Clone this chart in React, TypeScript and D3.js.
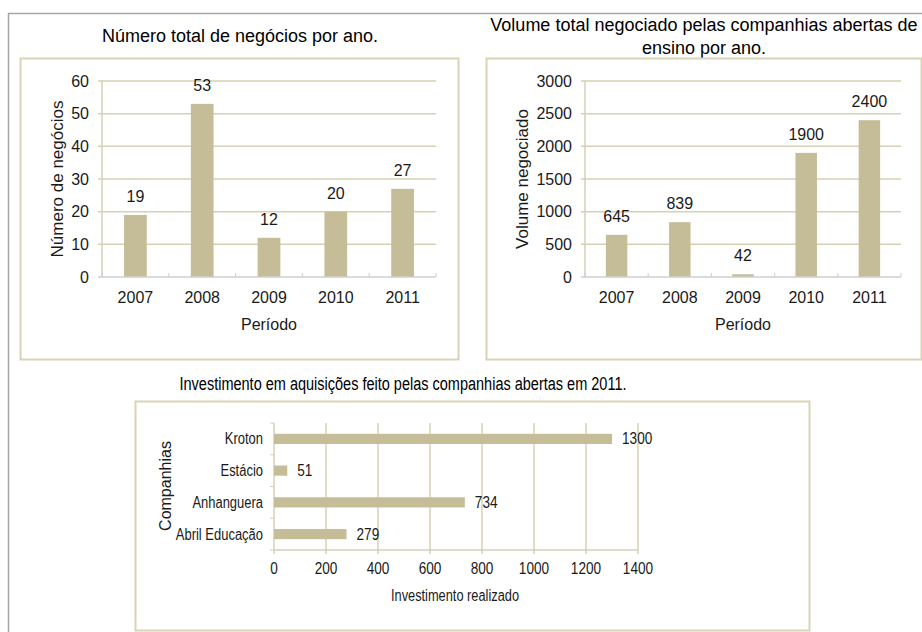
import React, { useEffect, useRef } from "react";
import * as d3 from "d3";

const years = ["2007", "2008", "2009", "2010", "2011"];
const negocios = [19, 53, 12, 20, 27];
const volume = [645, 839, 42, 1900, 2400];
const negociosTicks = [0, 10, 20, 30, 40, 50, 60];
const volumeTicks = [0, 500, 1000, 1500, 2000, 2500, 3000];
const companhias = ["Kroton", "Estácio", "Anhanguera", "Abril Educação"];
const investimento = [1300, 51, 734, 279];
const investTicks = [0, 200, 400, 600, 800, 1000, 1200, 1400];

const BAR = "#c4bd97";
const GRID = "#d6d1b3";
const FRAME = "#d9d4b8";
const TEXT = "#1a1a1a";
const FONT = "'Liberation Sans', Arial, sans-serif";

// squeeze text horizontally (the bottom chart uses a narrower face)
function squeeze(sel: d3.Selection<SVGTextElement, any, any, any>, k: number) {
  sel.each(function () {
    const w = this.getComputedTextLength();
    this.setAttribute("textLength", String(w * k));
    this.setAttribute("lengthAdjust", "spacingAndGlyphs");
  });
}

type VSpec = {
  frame: [number, number, number, number];
  plot: [number, number, number, number];
  values: number[];
  ticks: number[];
  max: number;
  yLabel: string;
  yLabelX: number;
  tickRight: number;
};

function drawColumns(svg: d3.Selection<SVGSVGElement, unknown, null, undefined>, s: VSpec) {
  const [fx0, fy0, fx1, fy1] = s.frame;
  const [px0, py0, px1, py1] = s.plot;
  const g = svg.append("g").style("font-family", FONT);

  g.append("rect")
    .attr("x", fx0 + 0.5).attr("y", fy0 + 0.5)
    .attr("width", fx1 - fx0).attr("height", fy1 - fy0)
    .attr("fill", "none").attr("stroke", FRAME).attr("stroke-width", 2);

  const x = d3.scaleBand().domain(years).range([px0, px1]).paddingInner(0.66).paddingOuter(0.33);
  const y = d3.scaleLinear().domain([0, s.max]).range([py1, py0]);

  g.selectAll(".grid").data(s.ticks.filter((t) => t > 0)).enter().append("line")
    .attr("x1", px0 - 4).attr("x2", px1)
    .attr("y1", (d) => y(d)).attr("y2", (d) => y(d))
    .attr("stroke", GRID).attr("stroke-width", 1.5);

  g.append("line").attr("x1", px0).attr("x2", px0).attr("y1", py0).attr("y2", py1)
    .attr("stroke", GRID).attr("stroke-width", 1.5);

  g.selectAll(".ylab").data(s.ticks).enter().append("text")
    .attr("x", s.tickRight).attr("y", (d) => y(d)).attr("dy", "0.35em")
    .attr("text-anchor", "end").attr("font-size", 16).attr("fill", TEXT)
    .text((d) => d);

  g.selectAll(".bar").data(s.values).enter().append("rect")
    .attr("x", (_, i) => x(years[i])!).attr("width", x.bandwidth())
    .attr("y", (d) => y(d)).attr("height", (d) => py1 - y(d))
    .attr("fill", BAR);

  g.selectAll(".val").data(s.values).enter().append("text")
    .attr("x", (_, i) => x(years[i])! + x.bandwidth() / 2)
    .attr("y", (d) => y(d) - 13)
    .attr("text-anchor", "middle").attr("font-size", 16).attr("fill", TEXT)
    .text((d) => d);

  // x axis
  g.append("line").attr("x1", px0 - 4).attr("x2", px1).attr("y1", py1).attr("y2", py1)
    .attr("stroke", "#cfcfcf").attr("stroke-width", 1.5);
  const step = x.step();
  g.selectAll(".xt").data(d3.range(years.length + 1)).enter().append("line")
    .attr("x1", (i) => px0 + i * step).attr("x2", (i) => px0 + i * step)
    .attr("y1", py1).attr("y2", py1 - 4)
    .attr("stroke", "#cfcfcf").attr("stroke-width", 1);

  g.selectAll(".xlab").data(years).enter().append("text")
    .attr("x", (d) => x(d)! + x.bandwidth() / 2).attr("y", py1 + 26)
    .attr("text-anchor", "middle").attr("font-size", 16).attr("fill", TEXT)
    .text((d) => d);

  g.append("text").attr("x", (px0 + px1) / 2).attr("y", py1 + 53)
    .attr("text-anchor", "middle").attr("font-size", 16).attr("fill", TEXT)
    .text("Período");

  g.append("text")
    .attr("transform", `translate(${s.yLabelX},${(py0 + py1) / 2}) rotate(-90)`)
    .attr("text-anchor", "middle").attr("font-size", 17).attr("fill", TEXT)
    .text(s.yLabel);
}

export default function App() {
  const ref = useRef<SVGSVGElement>(null);

  useEffect(() => {
    const svg = d3.select(ref.current!);
    svg.selectAll("*").remove();

    svg.append("rect").attr("width", 922).attr("height", 632).attr("fill", "#fff");

    // outer page border
    svg.append("path").attr("d", "M8.5,632 V13.5 H922")
      .attr("fill", "none").attr("stroke", "#a6a6a6").attr("stroke-width", 1.5);

    // titles
    const titles = svg.append("g").style("font-family", FONT).attr("fill", "#000").attr("font-size", 18);
    titles.append("text").attr("x", 240).attr("y", 42).attr("text-anchor", "middle")
      .text("Número total de negócios por ano.");
    titles.append("text").attr("x", 704).attr("y", 31).attr("text-anchor", "middle")
      .text("Volume total negociado pelas companhias abertas de");
    titles.append("text").attr("x", 704).attr("y", 54).attr("text-anchor", "middle")
      .text("ensino por ano.");
    titles.append("text").attr("x", 403).attr("y", 390).attr("text-anchor", "middle")
      .attr("textLength", 447).attr("lengthAdjust", "spacingAndGlyphs")
      .text("Investimento em aquisições feito pelas companhias abertas em 2011.");

    drawColumns(svg, {
      frame: [20, 58, 458, 359],
      plot: [102, 81, 436, 277],
      values: negocios,
      ticks: negociosTicks,
      max: 60,
      yLabel: "Número de negócios",
      yLabelX: 63,
      tickRight: 89,
    });

    drawColumns(svg, {
      frame: [486, 58, 921, 359],
      plot: [585, 81, 901, 277],
      values: volume,
      ticks: volumeTicks,
      max: 3000,
      yLabel: "Volume negociado",
      yLabelX: 528,
      tickRight: 572,
    });

    // horizontal bar chart
    const g = svg.append("g").style("font-family", FONT);
    const [px0, py0, px1, py1] = [274, 423, 638, 550];
    g.append("rect").attr("x", 135.5).attr("y", 401.5).attr("width", 674).attr("height", 229)
      .attr("fill", "none").attr("stroke", FRAME).attr("stroke-width", 2);

    const x = d3.scaleLinear().domain([0, 1400]).range([px0, px1]);
    const y = d3.scaleBand().domain(companhias).range([py0, py1]).paddingInner(0.68).paddingOuter(0.34);

    g.selectAll(".vg").data(investTicks.filter((t) => t > 0)).enter().append("line")
      .attr("x1", (d) => x(d)).attr("x2", (d) => x(d)).attr("y1", py0).attr("y2", py1 + 4)
      .attr("stroke", GRID).attr("stroke-width", 1.5);

    g.append("line").attr("x1", px0).attr("x2", px1).attr("y1", py1).attr("y2", py1)
      .attr("stroke", GRID).attr("stroke-width", 1.5);
    g.append("line").attr("x1", px0).attr("x2", px0).attr("y1", py0).attr("y2", py1 + 4)
      .attr("stroke", GRID).attr("stroke-width", 1.5);
    g.selectAll(".yt").data(d3.range(companhias.length + 1)).enter().append("line")
      .attr("x1", px0 - 4).attr("x2", px0)
      .attr("y1", (i) => py0 + i * y.step()).attr("y2", (i) => py0 + i * y.step())
      .attr("stroke", GRID).attr("stroke-width", 1);

    g.selectAll(".hbar").data(investimento).enter().append("rect")
      .attr("x", px0).attr("y", (_, i) => y(companhias[i])!)
      .attr("width", (d) => x(d) - px0).attr("height", y.bandwidth())
      .attr("fill", BAR);

    const hv = g.selectAll(".hval").data(investimento).enter().append("text")
      .attr("x", (d) => x(d) + 10).attr("y", (_, i) => y(companhias[i])! + y.bandwidth() / 2)
      .attr("dy", "0.35em").attr("font-size", 16).attr("fill", TEXT)
      .text((d) => d);
    squeeze(hv as any, 0.85);

    const cl = g.selectAll(".clab").data(companhias).enter().append("text")
      .attr("x", 263).attr("y", (d) => y(d)! + y.bandwidth() / 2).attr("dy", "0.35em")
      .attr("text-anchor", "end").attr("font-size", 16).attr("fill", TEXT)
      .text((d) => d);
    squeeze(cl as any, 0.81);

    const xl = g.selectAll(".xl").data(investTicks).enter().append("text")
      .attr("x", (d) => x(d)).attr("y", 574)
      .attr("text-anchor", "middle").attr("font-size", 16).attr("fill", TEXT)
      .text((d) => d);
    squeeze(xl as any, 0.85);

    const il = g.append("text").attr("x", 455).attr("y", 601).attr("text-anchor", "middle")
      .attr("font-size", 16).attr("fill", TEXT).text("Investimento realizado");
    squeeze(il as any, 0.8);

    g.append("text").attr("transform", `translate(171,486) rotate(-90)`)
      .attr("text-anchor", "middle").attr("font-size", 16).attr("fill", TEXT)
      .text("Companhias");
  }, []);

  return (
    <svg ref={ref} width={922} height={632} style={{ position: "absolute", left: 0, top: 0 }} />
  );
}
